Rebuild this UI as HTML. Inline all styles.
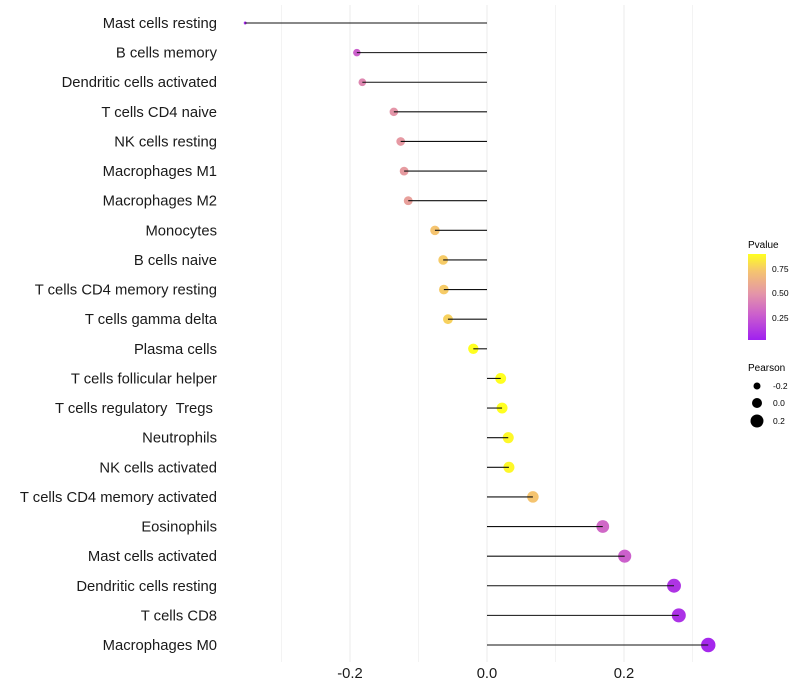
<!DOCTYPE html>
<html><head><meta charset="utf-8"><style>
body{margin:0;background:#fff;}
svg{display:block;font-family:"Liberation Sans",sans-serif;}
</style></head><body>
<svg id="chart" width="800" height="700">
<defs><linearGradient id="pg" x1="0" y1="1" x2="0" y2="0">
<stop offset="0" stop-color="#a020f0"/><stop offset="0.3" stop-color="#cc60cc"/><stop offset="0.54" stop-color="#e495a8"/><stop offset="0.8" stop-color="#f5c470"/><stop offset="1" stop-color="#ffff20"/></linearGradient></defs>
<g id="grid"></g>
<g id="dots"></g>
<g id="marks"></g>
<g id="ylabels"></g>
<g id="xticks"></g>
<g>
<text x="748" y="248" font-size="10">Pvalue</text>
<rect x="748" y="254" width="18" height="86" fill="url(#pg)"/>
<text x="772" y="272" font-size="8.5">0.75</text>
<text x="772" y="296" font-size="8.5">0.50</text>
<text x="772" y="321" font-size="8.5">0.25</text>
</g>
<g>
<text x="748" y="371" font-size="10">Pearson</text>
<circle cx="757" cy="386" r="3.5" fill="#000"/>
<circle cx="757" cy="403" r="5" fill="#000"/>
<circle cx="757" cy="421" r="6.5" fill="#000"/>
<text x="773" y="389" font-size="8.5">-0.2</text>
<text x="773" y="406" font-size="8.5">0.0</text>
<text x="773" y="424" font-size="8.5">0.2</text>
</g>
</svg>
<script>
const cells=["Mast cells resting","B cells memory","Dendritic cells activated","T cells CD4 naive","NK cells resting","Macrophages M1","Macrophages M2","Monocytes","B cells naive","T cells CD4 memory resting","T cells gamma delta","Plasma cells","T cells follicular helper","T cells regulatory\u00a0\u00a0Tregs\u00a0","Neutrophils","NK cells activated","T cells CD4 memory activated","Eosinophils","Mast cells activated","Dendritic cells resting","T cells CD8","Macrophages M0"];
const pearson=[-0.353,-0.190,-0.182,-0.136,-0.126,-0.121,-0.115,-0.076,-0.064,-0.063,-0.057,-0.020,0.020,0.022,0.031,0.032,0.067,0.169,0.201,0.273,0.280,0.323];
const pvalue=[0.08,0.3,0.45,0.5,0.52,0.53,0.55,0.72,0.74,0.74,0.76,0.9,0.9,0.9,0.88,0.88,0.72,0.33,0.3,0.13,0.12,0.08];
const xTicks=[-0.2,0.0,0.2];
const xGrid=[-0.3,-0.2,-0.1,0,0.1,0.2,0.3];
const NS="http://www.w3.org/2000/svg";
const xs=v=>487+v*685;
const ys=i=>23+i*(645-23)/(cells.length-1);
const stops=[[0.05,[160,32,240]],[0.3,[204,96,204]],[0.5,[228,149,168]],[0.72,[245,196,112]],[0.9,[255,255,32]]];
function col(p){if(p<=stops[0][0])return "rgb(160,32,240)";
 for(let k=1;k<stops.length;k++){if(p<=stops[k][0]){const [p0,a]=stops[k-1],[p1,b]=stops[k];const t=(p-p0)/(p1-p0);
 return "rgb("+a.map((c,j)=>Math.round(c+(b[j]-c)*t)).join(",")+")";}}
 return "rgb(255,255,32)";}
function mk(tag,at,parent){const e=document.createElementNS(NS,tag);for(const k in at)e.setAttribute(k,at[k]);parent.appendChild(e);return e;}
const G=document.getElementById("grid"),D=document.getElementById("dots"),M=document.getElementById("marks"),Y=document.getElementById("ylabels"),X=document.getElementById("xticks");
xGrid.forEach(v=>{const l=mk("line",{x1:xs(v),x2:xs(v),y1:5,y2:662,stroke:"#ebebeb","stroke-width":xTicks.includes(v)?1:0.6},G);

});
cells.forEach((c,i)=>{const y=ys(i);
 const r=Math.sqrt(Math.max(2,28.2+74*pearson[i]));
 const d=mk("circle",{cx:xs(pearson[i]),cy:y,r:r,fill:col(pvalue[i])},D);
 
 
 const ln=mk("line",{x1:xs(0),x2:xs(pearson[i]),y1:y,y2:y,stroke:"#111","stroke-width":1.1},M);
 
 
 const t=mk("text",{x:217,y:y+5,"text-anchor":"end","font-size":14.8,fill:"#1a1a1a"},Y);
 t.textContent=c;
 
 
});
xTicks.forEach(v=>{const t=mk("text",{x:xs(v),y:678,"text-anchor":"middle","font-size":14.8,fill:"#1a1a1a"},X);
 t.textContent=v.toFixed(1);
 
 });
</script>
</body></html>
